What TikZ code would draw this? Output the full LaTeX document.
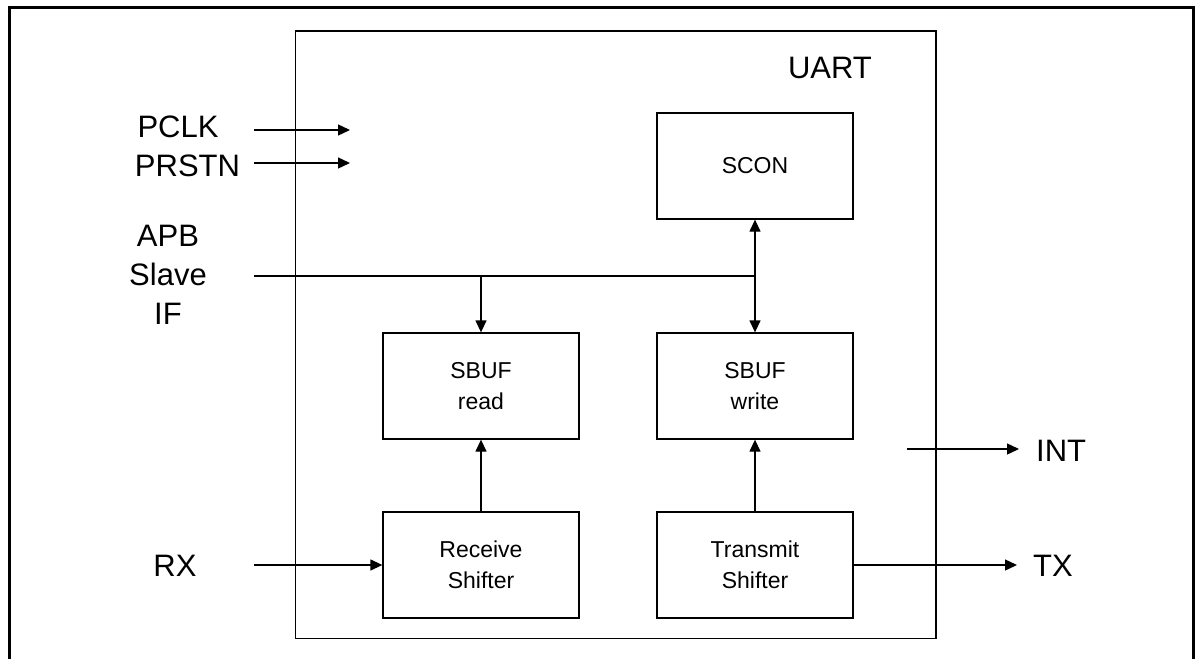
\documentclass[tikz,border=0pt]{standalone}
\usepackage{fontspec}
\setmainfont{Liberation Sans}
\usetikzlibrary{arrows.meta}
\tikzset{
  blk/.style={draw, line width=1.3pt, minimum width=196pt, minimum height=106pt, inner sep=0pt, align=center, font=\fontsize{23}{30.5}\selectfont},
  lbl/.style={inner sep=0pt, font=\fontsize{31}{39}\selectfont},
  conn/.style={line width=1.3pt},
  arr/.style={conn, -{Triangle[length=12pt,width=11pt]}},
  biarr/.style={conn, {Triangle[length=12pt,width=11pt]}-{Triangle[length=12pt,width=11pt]}}
}
\begin{document}
\begin{tikzpicture}[x=1pt,y=-1pt]
\useasboundingbox (0,0) rectangle (1198,658);
% outer frame (bottom edge lies outside the picture)
\draw[line width=3pt] (9,670) -- (9,7.5) -- (1193.5,7.5) -- (1193.5,670);
% UART block
\node[draw, line width=1.3pt, minimum width=640.5pt, minimum height=607.5pt, inner sep=0pt] (uart) at (615.75,334.75) {};
\node[lbl, anchor=base] (uartlbl) at (830,79) {UART};
% inner blocks
\node[blk] (scon) at (755,166) {SCON};
\node[blk] (sbufr) at (481,386) {SBUF\\read};
\node[blk] (sbufw) at (755,386) {SBUF\\write};
\node[blk] (rxs) at (481,565) {Receive\\Shifter};
\node[blk] (txs) at (755,565) {Transmit\\Shifter};
% external labels
\node[lbl, anchor=base] (pclk) at (178,137) {PCLK};
\node[lbl, anchor=base] (prstn) at (187.5,176) {PRSTN};
\node[lbl, align=center] (apb) at (168,275) {APB\\Slave\\IF};
\node[lbl, anchor=base] (rx) at (175,576) {RX};
\node[lbl, anchor=base west] (int) at (1036,461) {INT};
\node[lbl, anchor=base west] (tx) at (1033,576) {TX};
% coordinates
\coordinate (pclkS) at (254,130);
\coordinate (pclkE) at (350,130);
\coordinate (prstnS) at (254,163);
\coordinate (prstnE) at (350,163);
\coordinate (busS) at (254,276);
\coordinate (j1) at (481,276);
\coordinate (j2) at (755,276);
\coordinate (rxS) at (254,565);
\coordinate (txE) at (1017,565);
\coordinate (intS) at (907,449);
\coordinate (intE) at (1019,449);
% connectors
\draw[arr] (pclkS) -- (pclkE);
\draw[arr] (prstnS) -- (prstnE);
\draw[conn] (busS) -- (j2);
\draw[arr] (j1) -- (sbufr.north);
\draw[biarr] (scon.south) -- (sbufw.north);
\draw[arr] (rxs.north) -- (sbufr.south);
\draw[arr] (txs.north) -- (sbufw.south);
\draw[arr] (rxS) -- (rxs.west);
\draw[arr] (txs.east) -- (txE);
\draw[arr] (intS) -- (intE);
\end{tikzpicture}
\end{document}
